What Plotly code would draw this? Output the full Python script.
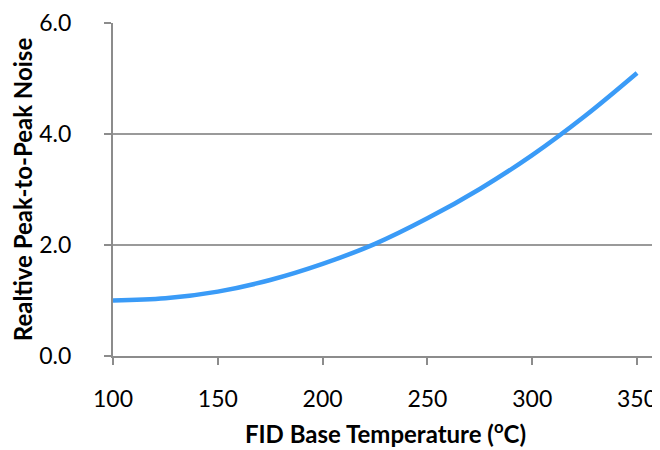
import plotly.graph_objects as go

temps = [100, 125, 150, 175, 200, 225, 250, 275, 300, 325, 350]
noise = [1.00, 1.04, 1.16, 1.37, 1.66, 2.02, 2.48, 3.01, 3.62, 4.32, 5.10]

x_ticks = [100, 150, 200, 250, 300, 350]
y_ticks = [0, 2, 4, 6]
y_labels = ["0.0", "2.0", "4.0", "6.0"]

FONT = "Lato, Open Sans, sans-serif"

fig = go.Figure()
fig.add_trace(go.Scatter(
    x=temps, y=noise, mode="lines",
    line=dict(color="#3A9BF7", width=4.5, shape="spline"),
    showlegend=False, hoverinfo="skip",
))

# page has an 8px body margin, so the figure is 8px smaller and shifted
fig.update_layout(
    width=652, height=442,
    margin=dict(l=105, r=2, t=15, b=94),
    plot_bgcolor="white", paper_bgcolor="white",
    font=dict(family=FONT, color="#000000", size=23),
)
fig.update_xaxes(
    range=[100, 360], tickvals=x_ticks, ticktext=[str(v) for v in x_ticks],
    showgrid=False, zeroline=False,
    showline=True, linecolor="#8c8c8c", linewidth=2,
    ticks="outside", ticklen=7, tickcolor="#8c8c8c", tickwidth=2,
    ticklabelstandoff=14,
    tickfont=dict(size=23, family=FONT),
    title=dict(text="<b>FID Base Temperature (<sup>o</sup>C)</b>",
               font=dict(size=24, family=FONT), standoff=16),
    automargin=False,
)
fig.update_yaxes(
    range=[0, 6], tickvals=y_ticks, ticktext=y_labels,
    showgrid=True, gridcolor="#9a9a9a", gridwidth=1.5,
    zeroline=False,
    showline=True, linecolor="#8c8c8c", linewidth=2,
    ticks="outside", ticklen=7, tickcolor="#8c8c8c", tickwidth=2,
    ticklabelstandoff=28,
    tickfont=dict(size=23, family=FONT),
    title=dict(text="<b>Realtive Peak-to-Peak Noise</b>",
               font=dict(size=24, family=FONT), standoff=2),
    automargin=False,
)

fig.write_html("out.html")
